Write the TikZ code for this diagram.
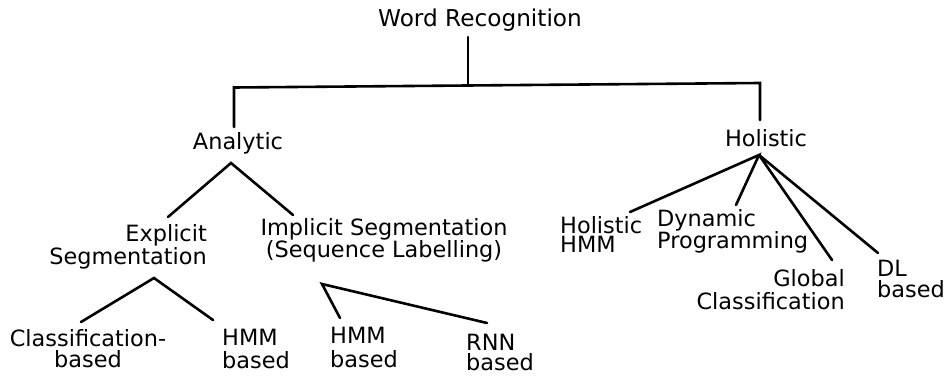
\documentclass[tikz,border=0pt]{standalone}
\usepackage{fontspec}
\setmainfont{DejaVu Sans}
\begin{document}
\begin{tikzpicture}[x=1pt,y=-1pt,
  lbl/.style={inner sep=0pt,font=\fontsize{22.4}{#1}\selectfont},
  lbl/.default=22,
  title/.style={inner sep=0pt,font=\fontsize{23.2}{23}\selectfont},
  conn/.style={line width=2.6pt,line cap=round,line join=miter}]
\useasboundingbox (0,0) rectangle (947,379);
% labels (anchor at baseline of last line)
\node[title,anchor=base] (wr) at (480,27) {Word Recognition};
\node[lbl,anchor=base] (an) at (238,150) {Analytic};
\node[lbl,anchor=base] (ho) at (766,147) {Holistic};
\node[lbl=23,anchor=base east,align=right] (ex) at (207,265) {Explicit\\Segmentation};
\node[lbl=21,anchor=base,align=center] (im) at (384,258) {Implicit Segmentation\\(Sequence Labelling)};
\node[lbl=21,anchor=base,align=center] (cl) at (88,367) {Classification-\\based};
\node[lbl=23,anchor=base west,align=left] (h1) at (222,368) {HMM\\based};
\node[lbl=24,anchor=base west,align=left] (h2) at (330,367) {HMM\\based};
\node[lbl=20,anchor=base west,align=left] (rn) at (466,370) {RNN\\based};
\node[lbl=19,anchor=base west,align=left] (hh) at (560,253) {Holistic\\HMM};
\node[lbl=20,anchor=base west,align=left] (dp) at (657,249) {Dynamic\\Programming};
\node[lbl=23,anchor=base east,align=right] (gc) at (845,309) {Global\\Classification};
\node[lbl=21,anchor=base west,align=left] (dl) at (877,298) {DL\\based};
% connector points
\coordinate (wr-b) at (468,37);
\coordinate (wr-j) at (468,85);
\coordinate (an-t) at (234,127);
\coordinate (an-c) at (234,87.5);
\coordinate (ho-c) at (760,83);
\coordinate (ho-t) at (760,120);
\coordinate (an-b) at (231,163);
\coordinate (ex-t) at (168,217);
\coordinate (im-t) at (293,215);
\coordinate (ex-b) at (154,278);
\coordinate (cl-t) at (81,322);
\coordinate (h1-t) at (213,320);
\coordinate (im-b) at (322,284);
\coordinate (h2-t) at (340,318);
\coordinate (rn-t) at (487,323);
\coordinate (ho-b) at (759,155);
\coordinate (hh-t) at (630,212);
\coordinate (dp-t) at (736,205);
\coordinate (gc-t) at (832,260);
\coordinate (dl-t) at (878,253);
% connectors
\draw[conn] (wr-b) -- (wr-j);
\draw[conn] (an-t) -- (an-c) -- (ho-c) -- (ho-t);
\draw[conn] (ex-t) -- (an-b) -- (im-t);
\draw[conn] (cl-t) -- (ex-b) -- (h1-t);
\draw[conn] (h2-t) -- (im-b) -- (rn-t);
\draw[conn] (hh-t) -- (ho-b) -- (dp-t);
\draw[conn] (ho-b) -- (gc-t);
\draw[conn] (ho-b) -- (dl-t);
\end{tikzpicture}
\end{document}
